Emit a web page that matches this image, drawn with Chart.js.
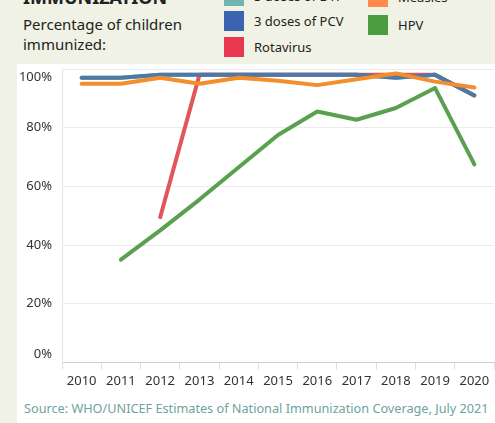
<!DOCTYPE html>
<html>
<head>
<meta charset="utf-8">
<script src="https://cdn.jsdelivr.net/npm/chart.js@4"></script>
<style>
  html, body { margin: 0; padding: 0; }
  body { width: 495px; height: 423px; background: #eff2e4; position: relative; overflow: hidden; font-family: "Noto Sans", sans-serif; color: #222; }
  #panel { position: absolute; left: 17px; top: 64px; width: 478px; height: 359px; background: #fff; }
  #title { position: absolute; left: 23px; top: -15px; font-size: 18px; font-weight: bold; color: #222; }
  #sub { position: absolute; left: 23px; top: 14px; font-size: 15px; line-height: 20px; color: #222; }
  .leg { position: absolute; font-size: 13px; color: #222; white-space: nowrap; }
  .leg i { position: absolute; left: 0; top: 0; width: 20px; height: 20px; }
  .leg span { position: absolute; left: 30px; top: 0; line-height: 20px; }
  #source { position: absolute; left: 24px; top: 399px; font-size: 12.7px; color: #6ea39e; white-space: nowrap; }
  canvas { position: absolute; left: 0; top: 0; }
</style>
</head>
<body>
<div id="panel"></div>
<div id="title">IMMUNIZATION</div>
<div id="sub">Percentage of children<br>immunized:</div>
<div id="legend"></div>
<div id="source">Source: WHO/UNICEF Estimates of National Immunization Coverage, July 2021</div>
<canvas id="chart" width="495" height="423"></canvas>
<script>
const years = ["2010", "2011", "2012", "2013", "2014", "2015", "2016", "2017", "2018", "2019", "2020"];

const dtp       = [97, 97, 98, 98, 98, 98, 98, 98, 97, 98, 91];
const pcv       = [97, 97, 98, 98, 98, 98, 98, 98, 97, 98, 91];
const rotavirus = [null, null, 49.5, 98, 98, 98, 98, 98, 98, 98, 91];
const measles   = [95, 95, 97, 95, 97, 96, 94.5, 96.5, 98.5, 95.7, 93.7];
const hpv       = [null, 35, 45, 55.5, 66.5, 77.5, 85.5, 82.7, 86.7, 93.5, 67.5];

const yTicks = [0, 20, 40, 60, 80, 100];

// legend: label, swatch colour, left, top
const legendItems = [
  ["3 doses of DTP", "#72b5b0", 224, -14],
  ["3 doses of PCV", "#3a63b1", 224, 11],
  ["Rotavirus", "#e8374e", 224, 37],
  ["Measles", "#ff8a4c", 368, -13],
  ["HPV", "#4a9e3f", 368, 15]
];

const legend = document.querySelector("#legend");
legendItems.forEach(([label, color, x, y]) => {
  const d = document.createElement("div");
  d.className = "leg";
  d.style.left = x + "px";
  d.style.top = y + "px";
  d.innerHTML = `<i style="background:${color}"></i><span>${label}</span>`;
  legend.appendChild(d);
});

function line(label, data, color, order) {
  return {
    label, data, order,
    borderColor: color,
    backgroundColor: color,
    borderWidth: 4,
    pointRadius: 0,
    tension: 0,
    borderCapStyle: "round",
    borderJoinStyle: "round",
    spanGaps: false
  };
}

// draws y labels kept inside the plot, like the original
const yLabels = {
  id: "yLabels",
  afterDraw(chart) {
    const y = chart.scales.y;
    const ctx = chart.ctx;
    const top = chart.chartArea.top + 8;
    const bottom = chart.chartArea.bottom - 8;
    ctx.save();
    ctx.font = '13px "Noto Sans"';
    ctx.fillStyle = "#333";
    ctx.textAlign = "right";
    ctx.textBaseline = "middle";
    yTicks.forEach(v => {
      const py = Math.min(bottom, Math.max(top, y.getPixelForValue(v)));
      ctx.fillText(v + "%", 52, py);
    });
    ctx.restore();
  }
};

new Chart(document.getElementById("chart"), {
  type: "line",
  data: {
    labels: years,
    datasets: [
      line("3 doses of DTP", dtp, "#76b7b2", 5),
      line("3 doses of PCV", pcv, "#4e79a7", 3),
      line("Rotavirus", rotavirus, "#e15759", 4),
      line("Measles", measles, "#f28e2b", 2),
      line("HPV", hpv, "#59a14f", 1)
    ]
  },
  options: {
    responsive: false,
    devicePixelRatio: 1,
    animation: false,
    layout: { padding: { left: 62, right: 1, top: 69, bottom: 30 } },
    plugins: { legend: { display: false }, tooltip: { enabled: false } },
    scales: {
      x: {
        offset: true,
        grid: { offset: true, drawOnChartArea: false, drawTicks: true, tickLength: 7, color: "#dedede" },
        border: { display: true, dash: [2, 2], color: "#cfcfcf" },
        ticks: { color: "#333", font: { family: "Noto Sans", size: 13 }, padding: 4, maxRotation: 0, autoSkip: false }
      },
      y: {
        min: 0, max: 100,
        ticks: { display: false, stepSize: 20 },
        grid: {
          drawTicks: false,
          color: c => c.tick.value === 0 ? "rgba(0,0,0,0)" : "#ebebeb"
        },
        border: { display: true, color: "#e4e4e4" }
      }
    }
  },
  plugins: [yLabels]
});
</script>
</body>
</html>
